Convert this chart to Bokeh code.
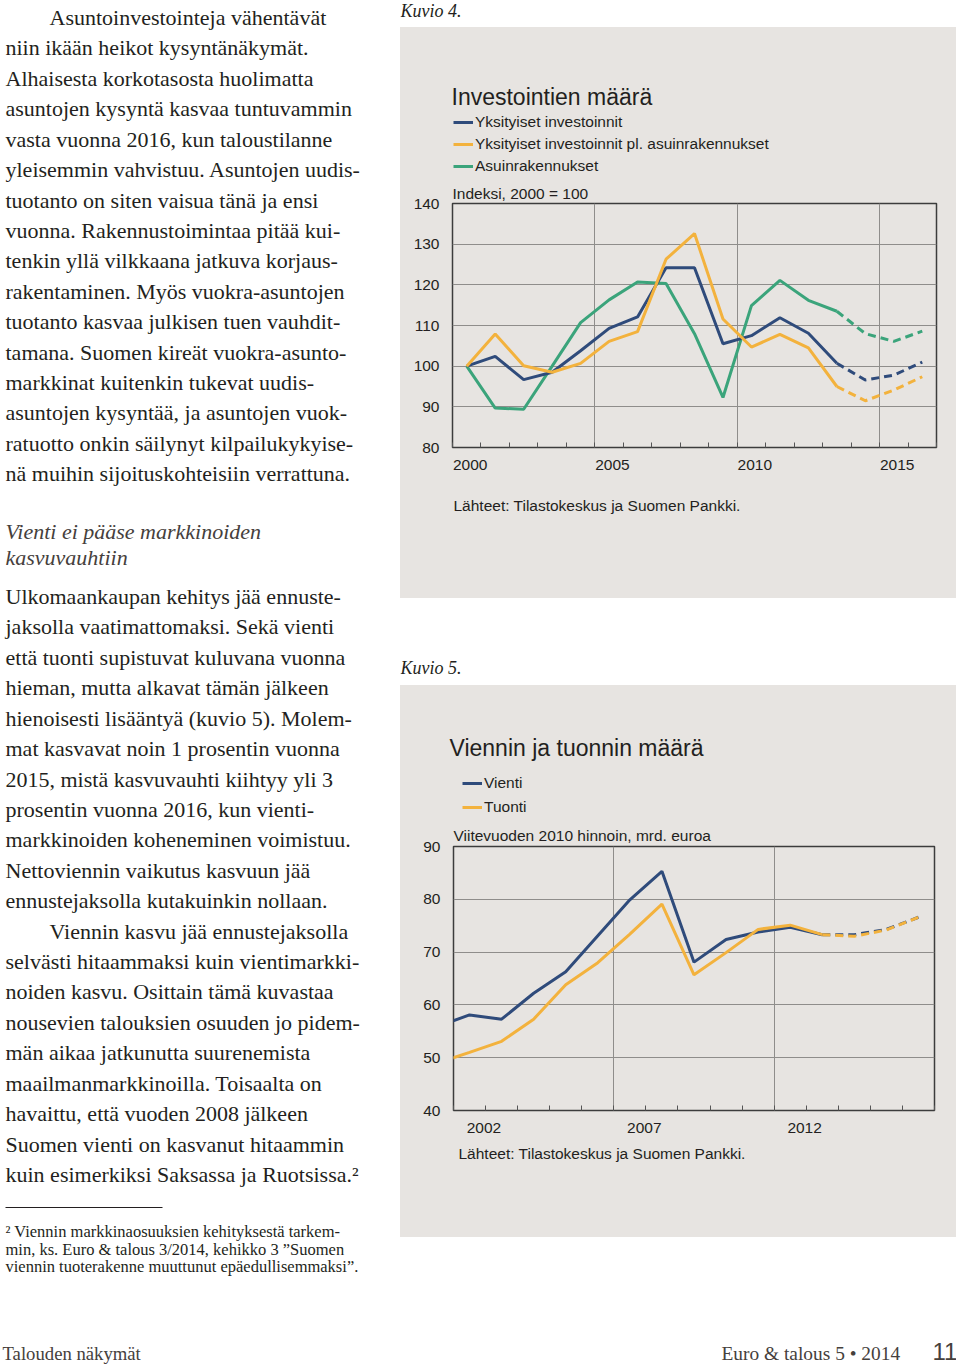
from bokeh.plotting import figure
from bokeh.models import (Range1d, ColumnDataSource, Legend, LegendItem,
                          SingleIntervalTicker, FixedTicker)
from bokeh.layouts import row, column
from bokeh.embed import file_html
from bokeh.resources import INLINE
from bokeh.core.properties import value

# ---------------- data ----------------
inv_years = list(range(2000, 2017))
inv_private = [100, 102.4, 96.7, 98.5, 103.8, 109.3, 112.1, 124.2, 124.2, 105.5,
               107.5, 111.9, 108.1, 100.7, 96.6, 97.8, 101.0]
inv_excl_housing = [100, 107.9, 100.1, 98.5, 100.7, 106.1, 108.5, 126.3, 132.6, 111.6,
                    104.7, 107.8, 104.5, 95.0, 91.5, 94.1, 97.4]
inv_housing = [100, 89.7, 89.4, 100.0, 110.7, 116.3, 120.7, 120.3, 108.0, 92.3,
               114.9, 121.1, 116.2, 113.5, 108.0, 106.1, 108.6]
inv_labels = ["Yksityiset investoinnit",
              "Yksityiset investoinnit pl. asuinrakennukset",
              "Asuinrakennukset"]
inv_tick_years = [2000, 2005, 2010, 2015]

trade_years = list(range(2001, 2017))
exports = [55.9, 58.1, 57.3, 62.2, 66.3, 73.1, 79.9, 85.3, 68.1, 72.4, 73.8, 74.7,
           73.3, 73.3, 74.3, 76.6]
imports = [49.0, 51.0, 53.1, 57.3, 63.8, 68.0, 73.4, 79.1, 65.7, 69.9, 74.3, 75.1,
           73.3, 73.0, 74.2, 76.6]
trade_labels = ["Vienti", "Tuonti"]
trade_tick_years = [2002, 2007, 2012]
forecast_start = 2013

# ---------------- texts ----------------
para1 = [
    "Asuntoinvestointeja vähentävät",
    "niin ikään heikot kysyntänäkymät.",
    "Alhaisesta korkotasosta huolimatta",
    "asuntojen kysyntä kasvaa tuntuvammin",
    "vasta vuonna 2016, kun taloustilanne",
    "yleisemmin vahvistuu. Asuntojen uudis-",
    "tuotanto on siten vaisua tänä ja ensi",
    "vuonna. Rakennustoimintaa pitää kui-",
    "tenkin yllä vilkkaana jatkuva korjaus-",
    "rakentaminen. Myös vuokra-asuntojen",
    "tuotanto kasvaa julkisen tuen vauhdit-",
    "tamana. Suomen kireät vuokra-asunto-",
    "markkinat kuitenkin tukevat uudis-",
    "asuntojen kysyntää, ja asuntojen vuok-",
    "ratuotto onkin säilynyt kilpailukykyise-",
    "nä muihin sijoituskohteisiin verrattuna.",
]
heading = ["Vienti ei pääse markkinoiden", "kasvuvauhtiin"]
para2 = [
    "Ulkomaankaupan kehitys jää ennuste-",
    "jaksolla vaatimattomaksi. Sekä vienti",
    "että tuonti supistuvat kuluvana vuonna",
    "hieman, mutta alkavat tämän jälkeen",
    "hienoisesti lisääntyä (kuvio 5). Molem-",
    "mat kasvavat noin 1 prosentin vuonna",
    "2015, mistä kasvuvauhti kiihtyy yli 3",
    "prosentin vuonna 2016, kun vienti-",
    "markkinoiden koheneminen voimistuu.",
    "Nettoviennin vaikutus kasvuun jää",
    "ennustejaksolla kutakuinkin nollaan.",
    "Viennin kasvu jää ennustejaksolla",
    "selvästi hitaammaksi kuin vientimarkki-",
    "noiden kasvu. Osittain tämä kuvastaa",
    "nousevien talouksien osuuden jo pidem-",
    "män aikaa jatkunutta suurenemista",
    "maailmanmarkkinoilla. Toisaalta on",
    "havaittu, että vuoden 2008 jälkeen",
    "Suomen vienti on kasvanut hitaammin",
    "kuin esimerkiksi Saksassa ja Ruotsissa.²",
]
indented_lines = {(1, 0), (2, 11)}
footnote = [
    "² Viennin markkinaosuuksien kehityksestä tarkem-",
    "min, ks. Euro & talous 3/2014, kehikko 3 ”Suomen",
    "viennin tuoterakenne muuttunut epäedullisemmaksi”.",
]
source_text = "Lähteet: Tilastokeskus ja Suomen Pankki."

# ---------------- styles ----------------
PANEL = "#e7e4e1"
TEXT = "#231f20"
HEAD = "#45403c"
BLUE = "#2f4b7b"
ORANGE = "#f3b23d"
GREEN = "#3ba47b"
GRID = "#8f8d8b"
OUTLINE = "#3c3c3c"
SANS = "Liberation Sans"
SERIF = "Liberation Serif"
COL_W = 556
CHART_FS = "15.5px"


def text_fig(w, h, x0, y0, bg="white"):
    """Figure whose data coordinates equal page pixels (y downwards)."""
    f = figure(width=w, height=h, x_range=Range1d(x0, x0 + w),
               y_range=Range1d(y0 + h, y0),
               output_backend="svg", toolbar_location=None,
               x_axis_location=None, y_axis_location=None, min_border=0,
               outline_line_color=None, background_fill_color=bg,
               border_fill_color=bg, frame_align=False,
               styles={"background-color": bg})
    f.xgrid.grid_line_color = None
    f.ygrid.grid_line_color = None
    return f


def put_text(f, xs, ys, texts, size, font=SERIF, style="normal", color=TEXT,
             align="left"):
    src = ColumnDataSource(dict(x=xs, y=ys, t=texts))
    f.text(x="x", y="y", text="t", source=src, text_font=value(font),
           text_font_size=value(size), text_font_style=style, text_color=color,
           text_baseline="middle", text_align=align)


def make_legend(f, labels, colors, loc, gap):
    items = []
    for lab, col in zip(labels, colors):
        # swatch-only renderer: a single point lying outside the visible frame
        r = f.line(x=[0], y=[0], line_color=col, line_width=3)
        items.append(LegendItem(label=lab, renderers=[r]))
    lg = Legend(items=items, location=loc, orientation="vertical", glyph_width=20,
                glyph_height=20, label_height=20, spacing=gap, padding=0,
                margin=0, label_standoff=2, background_fill_alpha=0,
                border_line_color=None, label_text_font=SANS,
                label_text_font_size=CHART_FS, label_text_color=TEXT)
    f.add_layout(lg)


def style_chart(c, subtitle, standoff):
    c.title.text = subtitle
    c.title.align = "left"
    c.title.standoff = standoff
    c.title.offset = 0
    c.title.text_font = SANS
    c.title.text_font_size = CHART_FS
    c.title.text_font_style = "normal"
    c.title.text_color = TEXT
    c.xgrid.grid_line_color = GRID
    c.ygrid.grid_line_color = GRID
    for ax in (c.xaxis[0], c.yaxis[0]):
        ax.axis_line_color = None
        ax.major_label_text_font = SANS
        ax.major_label_text_font_size = CHART_FS
        ax.major_label_text_color = TEXT
    c.xaxis.major_tick_in = 5
    c.xaxis.major_tick_out = 0
    c.xaxis.minor_tick_in = 5
    c.xaxis.minor_tick_out = 0
    c.xaxis.major_tick_line_color = "#555555"
    c.xaxis.minor_tick_line_color = "#555555"
    c.yaxis.major_tick_in = 0
    c.yaxis.major_tick_out = 0
    c.yaxis.minor_tick_line_color = None
    c.yaxis.major_label_standoff = 13
    c.xaxis.major_label_standoff = 12


def split_series(xv, yv, shift=0.0):
    solid_x = [x + shift for x in xv if x <= forecast_start]
    solid_y = [y for x, y in zip(xv, yv) if x <= forecast_start]
    dash_x = [x + shift for x in xv if x >= forecast_start]
    dash_y = [y for x, y in zip(xv, yv) if x >= forecast_start]
    return solid_x, solid_y, dash_x, dash_y


def chart_fig(h, xr, yr, left, right, top, bottom):
    return figure(width=COL_W, height=h, x_range=xr, y_range=yr,
                  output_backend="svg", toolbar_location=None,
                  min_border_left=left, min_border_right=right, min_border_top=top,
                  min_border_bottom=bottom, background_fill_color=PANEL,
                  border_fill_color=PANEL, outline_line_color=OUTLINE,
                  outline_line_width=1.5, frame_align=False,
                  styles={"background-color": PANEL})


# ---------------- left column ----------------
L = text_fig(400, 1365, 0, 0)
pitch = 30.42
xs, ys, ts = [], [], []
for i, line in enumerate(para1):
    xs.append(49 if (1, i) in indented_lines else 5)
    ys.append(17 + i * pitch)
    ts.append(line)
for i, line in enumerate(para2):
    xs.append(49 if (2, i) in indented_lines else 5)
    ys.append(596 + i * pitch)
    ts.append(line)
put_text(L, xs, ys, ts, "22px")
put_text(L, [5, 5], [531, 557], heading, "22px", style="italic", color=HEAD)
L.segment(x0=[5], y0=[1207], x1=[162], y1=[1207], line_color=TEXT, line_width=1)
put_text(L, [5] * 3, [1231 + 17.6 * i for i in range(3)], footnote, "16.5px")
put_text(L, [2], [1353], ["Talouden näkymät"], "18.7px", color=HEAD)

# ---------------- right column ----------------
k4 = text_fig(COL_W, 27, 400, 0)
put_text(k4, [400], [10], ["Kuvio 4."], "18px", style="italic", color=TEXT)

# Chart 1 header
h1 = text_fig(COL_W, 153, 400, 27, bg=PANEL)
put_text(h1, [451], [96], ["Investointien määrä"], "23px", font=SANS)
make_legend(h1, inv_labels, [BLUE, ORANGE, GREEN], (53, 4), 2)

# Chart 1
c1 = chart_fig(300, Range1d(2000, 2017), Range1d(80, 140), 52, 20, 23, 33)
# tick labels sit just right of their year line, as in the original
c1.xaxis.ticker = FixedTicker(ticks=[y + 0.62 for y in inv_tick_years],
                              minor_ticks=list(range(2000, 2018)))
c1.xaxis.major_label_overrides = {y + 0.62: str(y) for y in inv_tick_years}
c1.xaxis.major_tick_in = 0
c1.yaxis.ticker = SingleIntervalTicker(interval=10, num_minor_ticks=0)
style_chart(c1, "Indeksi, 2000 = 100", 3)
c1.xaxis.major_tick_in = 0
c1.xgrid.ticker = FixedTicker(ticks=inv_tick_years)
for series, color in [(inv_housing, GREEN), (inv_private, BLUE),
                      (inv_excl_housing, ORANGE)]:
    sx, sy, dx, dy = split_series(inv_years, series, 0.5)
    c1.line(sx, sy, line_color=color, line_width=3)
    c1.line(dx, dy, line_color=color, line_width=3, line_dash="8 5")

f1 = text_fig(COL_W, 118, 400, 480, bg=PANEL)
put_text(f1, [453], [505], [source_text], CHART_FS, font=SANS)

k5 = text_fig(COL_W, 87, 400, 598)
put_text(k5, [400], [667], ["Kuvio 5."], "18px", style="italic", color=TEXT)

# Chart 2 header
h2 = text_fig(COL_W, 136, 400, 685, bg=PANEL)
put_text(h2, [449], [747], ["Viennin ja tuonnin määrä"], "23px", font=SANS)
make_legend(h2, trade_labels, [BLUE, ORANGE], (62, 4), 4)

# Chart 2
c2 = chart_fig(320, Range1d(2001.5, 2016.5), Range1d(40, 90), 53, 22, 24, 31)
c2.xaxis.ticker = FixedTicker(ticks=[y + 0.45 for y in trade_tick_years],
                              minor_ticks=[y + 0.5 for y in trade_years])
c2.xaxis.major_label_overrides = {y + 0.45: str(y) for y in trade_tick_years}
c2.yaxis.ticker = SingleIntervalTicker(interval=10, num_minor_ticks=0)
style_chart(c2, "Viitevuoden 2010 hinnoin, mrd. euroa", 6)
c2.xaxis.major_tick_in = 0
c2.xgrid.ticker = FixedTicker(ticks=[2006.5, 2011.5])
for series, color in [(exports, BLUE), (imports, ORANGE)]:
    sx, sy, dx, dy = split_series(trade_years, series)
    c2.line(sx, sy, line_color=color, line_width=3)
    c2.line(dx, dy, line_color=color, line_width=3, line_dash="8 5")

f2 = text_fig(COL_W, 96, 400, 1141, bg=PANEL)
put_text(f2, [458], [1153], [source_text], CHART_FS, font=SANS)

foot = text_fig(COL_W, 128, 400, 1237)
put_text(foot, [721], [1353], ["Euro & talous 5 • 2014"], "19.4px", color=HEAD)
put_text(foot, [932], [1351], ["11"], "24px", font=SANS, color=HEAD)

layout = row(L, column(k4, h1, c1, f1, k5, h2, c2, f2, foot))

with open("out.html", "w") as fh:
    fh.write(file_html(layout, INLINE))
